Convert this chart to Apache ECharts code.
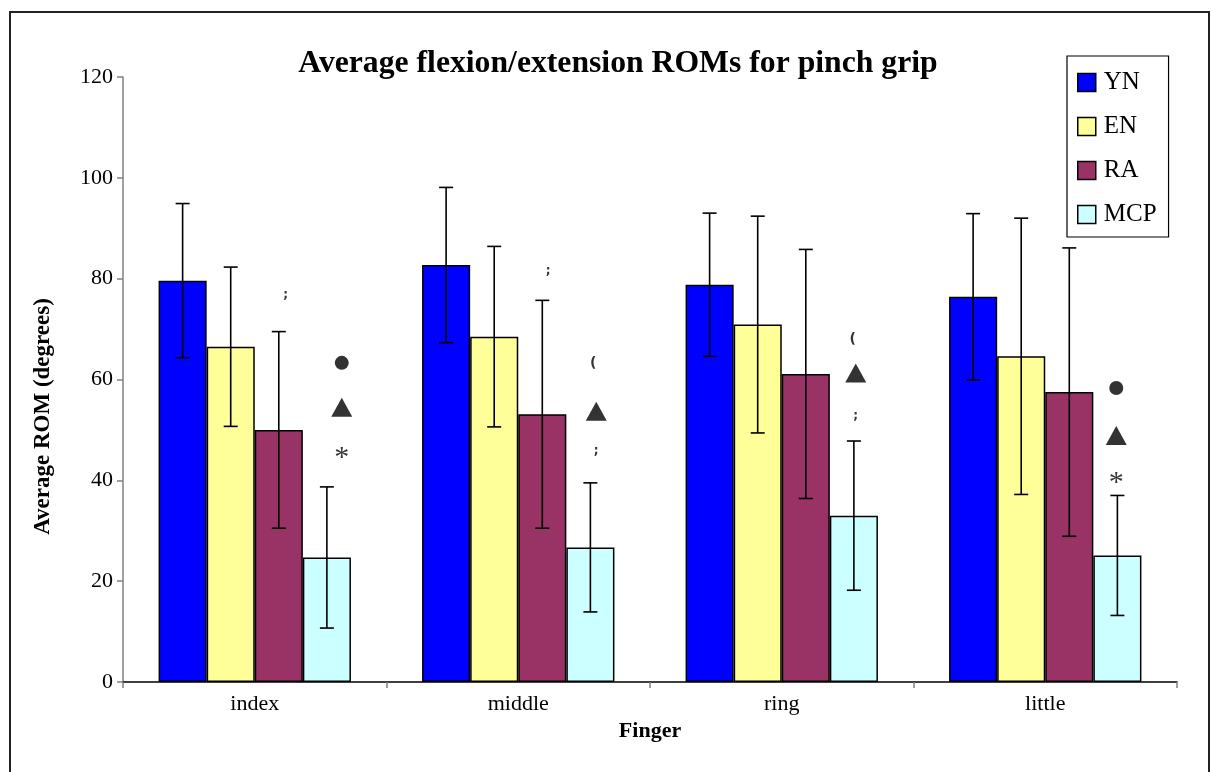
<!DOCTYPE html>
<html>
<head>
<meta charset="utf-8">
<script src="https://cdn.jsdelivr.net/npm/echarts@6/dist/echarts.min.js"></script>
<style>
  html, body { margin: 0; padding: 0; background: #fff; }
  #chart { width: 1212px; height: 772px; }
</style>
</head>
<body>
<div id="chart"></div>
<script>
// ---------- DATA ----------
const categories = ['index', 'middle', 'ring', 'little'];
const seriesNames = ['YN', 'EN', 'RA', 'MCP'];
const ynMean  = [79.6, 82.7, 78.8, 76.4];
const ynErr   = [15.3, 15.4, 14.2, 16.5];
const enMean  = [66.5, 68.5, 70.9, 64.6];
const enErr   = [15.8, 17.9, 21.5, 27.4];
const raMean  = [50.0, 53.1, 61.1, 57.5];
const raErr   = [19.5, 22.6, 24.7, 28.6];
const mcpMean = [24.7, 26.7, 33.0, 25.1];
const mcpErr  = [14.0, 12.8, 14.8, 11.9];
// significance marks (y values)
const sigCircle   = [63.3, 63.3, 68.0, 58.3];
const sigTriangle = [54.5, 53.7, 61.3, 48.9];
const sigStar     = [45.7, 45.8, 52.8, 40.8];
const sigAboveRA  = [76.8, 81.5, null, null];
const brokenGlyph = [false, true, true, false];
const yTicks = [0, 20, 40, 60, 80, 100, 120];

// ---------- STYLE ----------
const colors = ['#0000FF', '#FFFF99', '#993366', '#CCFFFF'];
const serif = '"Liberation Serif", "Times New Roman", serif';
const markDx = [87, 78, 74, 71];   // horizontal nudge of the MCP marks from category centre
const raDx = [31, 30, 30, 30];
const catGap = 0.27;

const means = [ynMean, enMean, raMean, mcpMean];
const errs = [ynErr, enErr, raErr, mcpErr];

const chart = echarts.init(document.getElementById('chart'), null, { renderer: 'canvas' });

const barSeries = seriesNames.map((name, i) => ({
  name: name,
  type: 'bar',
  data: means[i],
  barGap: '0%',
  barCategoryGap: (catGap * 100) + '%',
  itemStyle: { color: colors[i], borderColor: '#000', borderWidth: 1.5 },
  emphasis: { disabled: true },
  z: 2
}));

const errSeries = seriesNames.map((name, i) => ({
  type: 'custom',
  name: name + '_err',
  data: categories.map((c, k) => [k, means[i][k] - errs[i][k], means[i][k] + errs[i][k]]),
  encode: { x: 0, y: [1, 2] },
  z: 5,
  silent: true,
  renderItem: function (params, api) {
    const k = api.value(0);
    const lo = api.coord([k, api.value(1)]);
    const hi = api.coord([k, api.value(2)]);
    const catW = api.size([1, 0])[0];
    const barW = catW * (1 - catGap) / 4;
    const x = lo[0] + (i - 1.5) * barW;
    const cap = 7;
    const st = { stroke: '#000', lineWidth: 1.6 };
    return {
      type: 'group',
      children: [
        { type: 'line', shape: { x1: x, y1: lo[1], x2: x, y2: hi[1] }, style: st },
        { type: 'line', shape: { x1: x - cap, y1: lo[1], x2: x + cap, y2: lo[1] }, style: st },
        { type: 'line', shape: { x1: x - cap, y1: hi[1], x2: x + cap, y2: hi[1] }, style: st }
      ]
    };
  }
}));

function textMark(values, textFn, fontFn, dxArr, dy) {
  const data = [];
  values.forEach((v, k) => {
    if (v == null) return;
    const f = fontFn(k);
    data.push({
      value: [k, v],
      label: {
        show: true,
        position: 'inside',
        formatter: textFn(k),
        color: '#000',
        fontFamily: f.family,
        fontSize: f.size,
        fontWeight: f.weight,
        offset: [dxArr[k], dy(k)]
      }
    });
  });
  return { type: 'scatter', silent: true, symbol: 'circle', symbolSize: 0, z: 6, data: data };
}

const circleSeries = {
  type: 'scatter',
  silent: true,
  z: 6,
  data: sigCircle.map((v, k) => ({
    value: [k, v],
    symbol: 'circle',
    symbolSize: brokenGlyph[k] ? 0 : 14,
    symbolOffset: [markDx[k], 0],
    itemStyle: { color: '#000' },
    label: brokenGlyph[k] ? {
      show: true, position: 'inside', formatter: '(', color: '#000',
      fontFamily: '"DejaVu Sans", sans-serif', fontWeight: 'bold', fontSize: 14,
      offset: [-3, 0]
    } : { show: false }
  }))
};

const triSeries = {
  type: 'scatter',
  silent: true,
  z: 6,
  symbol: 'triangle',
  symbolSize: [21, 19],
  itemStyle: { color: '#000' },
  data: sigTriangle.map((v, k) => ({ value: [k, v], symbolOffset: [markDx[k], 0] }))
};

const starSeries = textMark(
  sigStar,
  k => brokenGlyph[k] ? ';' : '*',
  k => brokenGlyph[k] ? { family: '"DejaVu Sans", sans-serif', size: 12, weight: 'bold' }
                      : { family: serif, size: 30, weight: 'normal' },
  markDx,
  k => brokenGlyph[k] ? 0 : 7
);

const raMarkSeries = textMark(
  sigAboveRA,
  k => ';',
  k => ({ family: '"DejaVu Sans", sans-serif', size: 12, weight: 'bold' }),
  raDx,
  k => 0
);

const option = {
  animation: false,
  backgroundColor: '#fff',
  title: {
    text: 'Average flexion/extension ROMs for pinch grip',
    left: 613,
    top: 43,
    textAlign: 'center',
    textStyle: { fontFamily: serif, fontWeight: 'bold', fontSize: 31.7, color: '#000' }
  },
  legend: {
    data: seriesNames,
    orient: 'vertical',
    left: 1067,
    top: 56,
    padding: [14, 12, 10, 10],
    itemWidth: 18,
    itemHeight: 18,
    itemGap: 19,
    borderColor: '#000',
    borderWidth: 1.2,
    icon: 'rect',
    itemStyle: { borderColor: '#000', borderWidth: 1.5 },
    textStyle: { fontFamily: serif, fontSize: 25, color: '#000', lineHeight: 24, padding: [0, 0, 0, 3] },
    selectedMode: false
  },
  grid: { left: 123, right: 35, top: 77, bottom: 90, containLabel: false },
  xAxis: {
    type: 'category',
    data: categories,
    name: 'Finger',
    nameLocation: 'middle',
    nameGap: 32,
    nameTextStyle: { fontFamily: serif, fontWeight: 'bold', fontSize: 22, color: '#000' },
    axisLine: { lineStyle: { color: '#000', width: 1.5 } },
    axisTick: { show: true, length: 6, lineStyle: { color: '#808080', width: 1.5 } },
    axisLabel: { fontFamily: serif, fontSize: 22, color: '#000', margin: 11 },
    splitLine: { show: false }
  },
  yAxis: {
    type: 'value',
    min: yTicks[0],
    max: yTicks[yTicks.length - 1],
    interval: yTicks[1] - yTicks[0],
    name: 'Average ROM (degrees)',
    nameLocation: 'middle',
    nameGap: 68,
    nameRotate: 90,
    nameTextStyle: { fontFamily: serif, fontWeight: 'bold', fontSize: 23, color: '#000', padding: [0, 74, 0, 0] },
    axisLine: { show: true, lineStyle: { color: '#808080', width: 1.5 } },
    axisTick: { show: true, length: 6, lineStyle: { color: '#808080', width: 1.5 } },
    axisLabel: { fontFamily: serif, fontSize: 22, color: '#000', margin: 10 },
    splitLine: { show: false }
  },
  graphic: [{
    type: 'rect',
    shape: { x: 10, y: 12, width: 1199, height: 800 },
    style: { fill: 'none', stroke: '#222', lineWidth: 2 },
    silent: true,
    z: 100
  }],
  series: [].concat(barSeries, errSeries, [circleSeries, triSeries, starSeries, raMarkSeries])
};

chart.setOption(option);
</script>
</body>
</html>
